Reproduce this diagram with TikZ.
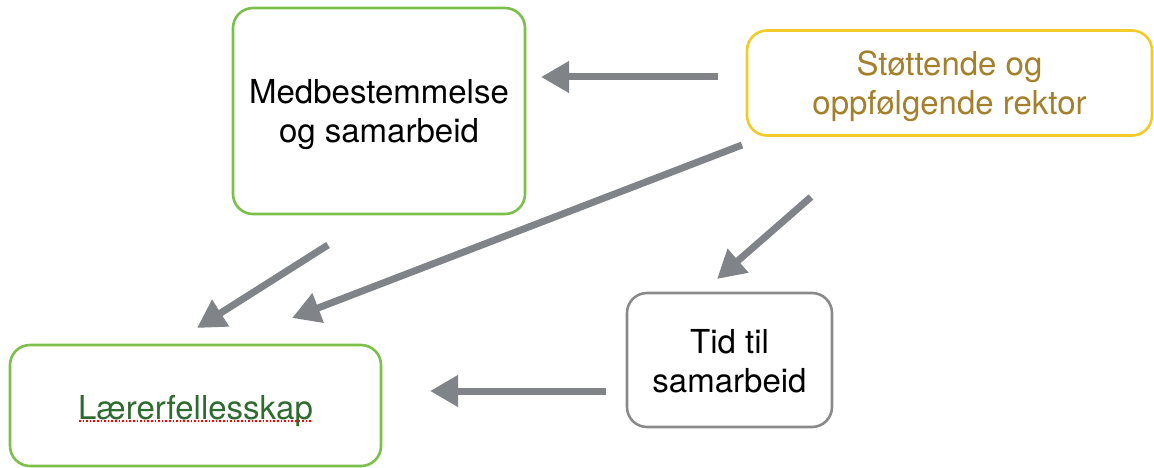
\documentclass[tikz,border=0pt]{standalone}
\usepackage{fontspec}
\setmainfont{TeX Gyre Heros}
\usetikzlibrary{arrows.meta}
\definecolor{boxgreen}{HTML}{7CC04B}
\definecolor{boxyellow}{HTML}{F2CB2A}
\definecolor{boxgray}{HTML}{8A8A8A}
\definecolor{goldtext}{HTML}{A5802C}
\definecolor{darkgreentext}{HTML}{2F6A31}
\definecolor{arrowgray}{HTML}{808387}
\tikzset{
  card/.style={draw, line width=2.6pt, rounded corners=20pt, inner sep=0pt},
  cardtext/.style={align=center, font=\fontsize{33}{39}\selectfont, inner sep=0pt},
  flow/.style={draw=arrowgray, line width=7pt,
    -{Triangle[length=28pt,width=30pt]}},
}
\begin{document}
\begin{tikzpicture}[x=1pt,y=-1pt]
\useasboundingbox (0,0) rectangle (1154,468);
\node[card, draw=boxgreen, minimum width=292pt, minimum height=206pt] (med) at (379,111) {};
\node[cardtext] (medt) at ([yshift=-4pt]med.center) {Medbestemmelse\\og samarbeid};
\node[card, draw=boxyellow, minimum width=405pt, minimum height=105pt] (rek) at (949.5,83) {};
\node[cardtext, text=goldtext] (rekt) at ([yshift=-3pt]rek.center) {Støttende og\\oppfølgende rektor};
\node[card, draw=boxgray, minimum width=205pt, minimum height=134pt] (tid) at (729.5,360) {};
\node[cardtext] (tidt) at ([yshift=-1pt]tid.center) {Tid til\\samarbeid};
\node[card, draw=boxgreen, minimum width=371pt, minimum height=121pt] (lar) at (195.5,405.5) {};
\node[cardtext, text=darkgreentext] (lart) at ([yshift=-6pt]lar.center) {Lærerfellesskap};
\coordinate (u1) at (79,421);
\coordinate (u2) at (313,421);
\draw[red, line width=1.6pt, dotted] (u1) -- (u2);
\coordinate (a1s) at (718,77);  \coordinate (a1e) at (541,77);
\coordinate (a2s) at (328,245); \coordinate (a2e) at (197,328);
\coordinate (a3s) at (742,145); \coordinate (a3e) at (292,318);
\coordinate (a4s) at (811,197); \coordinate (a4e) at (717,279);
\coordinate (a5s) at (606,391); \coordinate (a5e) at (430,391);
\draw[flow] (a1s) -- (a1e);
\draw[flow] (a2s) -- (a2e);
\draw[flow] (a3s) -- (a3e);
\draw[flow] (a4s) -- (a4e);
\draw[flow] (a5s) -- (a5e);
\end{tikzpicture}
\end{document}
